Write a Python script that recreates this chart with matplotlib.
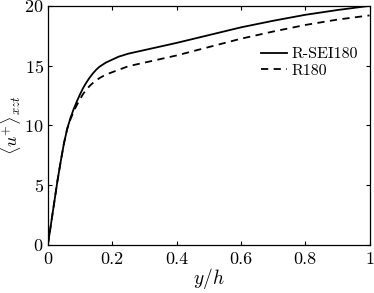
import numpy as np
import matplotlib
matplotlib.use('Agg')
import matplotlib.pyplot as plt

# mean velocity profiles
yh = [0, 0.01, 0.02, 0.03, 0.04, 0.05, 0.06, 0.07, 0.08, 0.09, 0.10,
      0.11, 0.12, 0.13, 0.14, 0.15, 0.16, 0.18, 0.20, 0.22, 0.25, 0.30,
      0.35, 0.40, 0.50, 0.60, 0.70, 0.80, 0.90, 1.00]
u_sei = [0, 1.8, 3.6, 5.4, 7.0, 8.5, 9.7, 10.6, 11.35, 12.0, 12.6,
         13.15, 13.6, 14.0, 14.35, 14.65, 14.9, 15.25, 15.5, 15.75, 16.0, 16.3,
         16.6, 16.9, 17.55, 18.2, 18.75, 19.25, 19.65, 20.0]
u_r180 = [0, 1.8, 3.6, 5.4, 7.0, 8.5, 9.7, 10.5, 11.15, 11.7, 12.2,
          12.65, 13.0, 13.3, 13.55, 13.75, 13.95, 14.25, 14.45, 14.65, 14.95, 15.25,
          15.55, 15.85, 16.55, 17.25, 17.85, 18.4, 18.85, 19.2]
xticks = [0, 0.2, 0.4, 0.6, 0.8, 1]
xticklabels = ['0', '0.2', '0.4', '0.6', '0.8', '1']
yticks = [0, 5, 10, 15, 20]

plt.rcParams['font.family'] = 'serif'
plt.rcParams['font.serif'] = ['cmr10']
plt.rcParams['mathtext.fontset'] = 'cm'
plt.rcParams['axes.formatter.use_mathtext'] = True

fig = plt.figure(figsize=(3.74, 2.93), dpi=100)
ax = fig.add_axes([0.128, 0.164, 0.860, 0.816])

ax.plot(yh, u_sei, 'k-', lw=1.3, label='R-SEI180')
ax.plot(yh, u_r180, 'k--', lw=1.3, dashes=(4, 3), label='R180')

ax.set_xlim(0, 1)
ax.set_ylim(0, 20)
ax.set_xticks(xticks)
ax.set_xticklabels(xticklabels)
ax.set_yticks(yticks)
ax.tick_params(direction='in', length=3, width=0.8, labelsize=13,
               top=True, right=True)
ax.tick_params(axis='x', pad=5)
ax.tick_params(axis='y', pad=3)
for s in ax.spines.values():
    s.set_linewidth(0.9)

ax.set_xlabel(r'$y/h$', fontsize=14, labelpad=-1)
ax.set_ylabel(r'$\langle u^{+}\rangle_{xzt}$', fontsize=13)
ax.yaxis.set_label_coords(-0.076, 0.5)

ax.legend(loc='upper right', bbox_to_anchor=(0.985, 0.855), frameon=False,
          borderaxespad=0, fontsize=11.5, handlelength=1.6,
          handletextpad=0.3, labelspacing=0.15)

fig.savefig('out.png', dpi=100)
